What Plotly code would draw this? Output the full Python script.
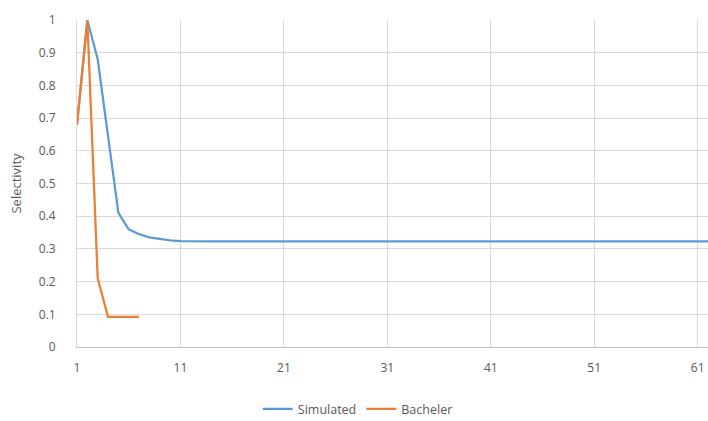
import plotly.graph_objects as go

categories = list(range(1, 63))
simulated = [0.68, 1.0, 0.88, 0.64, 0.41, 0.36, 0.345, 0.335, 0.33, 0.326, 0.324] + [0.323] * 51
bacheler_x = [1, 2, 3, 4, 5, 6, 7]
bacheler = [0.68, 1.0, 0.21, 0.092, 0.092, 0.092, 0.092]
x_ticks = [1, 11, 21, 31, 41, 51, 61]
y_ticks = [0, 0.1, 0.2, 0.3, 0.4, 0.5, 0.6, 0.7, 0.8, 0.9, 1]
y_labels = ["0", "0.1", "0.2", "0.3", "0.4", "0.5", "0.6", "0.7", "0.8", "0.9", "1"]

fig = go.Figure()
fig.add_trace(go.Scatter(x=categories, y=simulated, mode="lines", name="Simulated",
                         line=dict(color="#5B9BD5", width=2.25)))
fig.add_trace(go.Scatter(x=bacheler_x, y=bacheler, mode="lines", name="Bacheler",
                         line=dict(color="#ED7D31", width=2.25)))

font_color = "#595959"
fig.update_layout(
    width=708, height=421,
    margin=dict(l=77, r=0, t=20, b=74, autoexpand=False),
    paper_bgcolor="white", plot_bgcolor="white",
    font=dict(family="Open Sans, Liberation Sans, sans-serif", size=12, color=font_color),
    showlegend=True,
    legend=dict(orientation="h", x=0.445, xanchor="center", y=-0.19, yanchor="middle",
                font=dict(size=12.5, color=font_color), itemwidth=30),
    xaxis=dict(range=[1, 62], tickvals=x_ticks, ticktext=[str(v) for v in x_ticks],
               showgrid=True, gridcolor="#d9d9d9", gridwidth=1,
               showline=True, linecolor="#bfbfbf", linewidth=1,
               zeroline=False, ticks="", ticklabelstandoff=10, automargin=False),
    yaxis=dict(range=[0, 1], tickvals=y_ticks, ticktext=y_labels,
               showgrid=True, gridcolor="#d9d9d9", gridwidth=1,
               showline=True, linecolor="#d9d9d9", linewidth=1,
               zeroline=False, ticks="", ticklabelstandoff=18, automargin=False,
               title=dict(text="Selectivity", standoff=14, font=dict(size=13, color=font_color))),
)

# remove the default page margin so the figure fills the window
fig.write_html("out.html", config={"displayModeBar": False},
               post_script="document.body.style.margin='0';document.body.style.overflow='hidden';")
